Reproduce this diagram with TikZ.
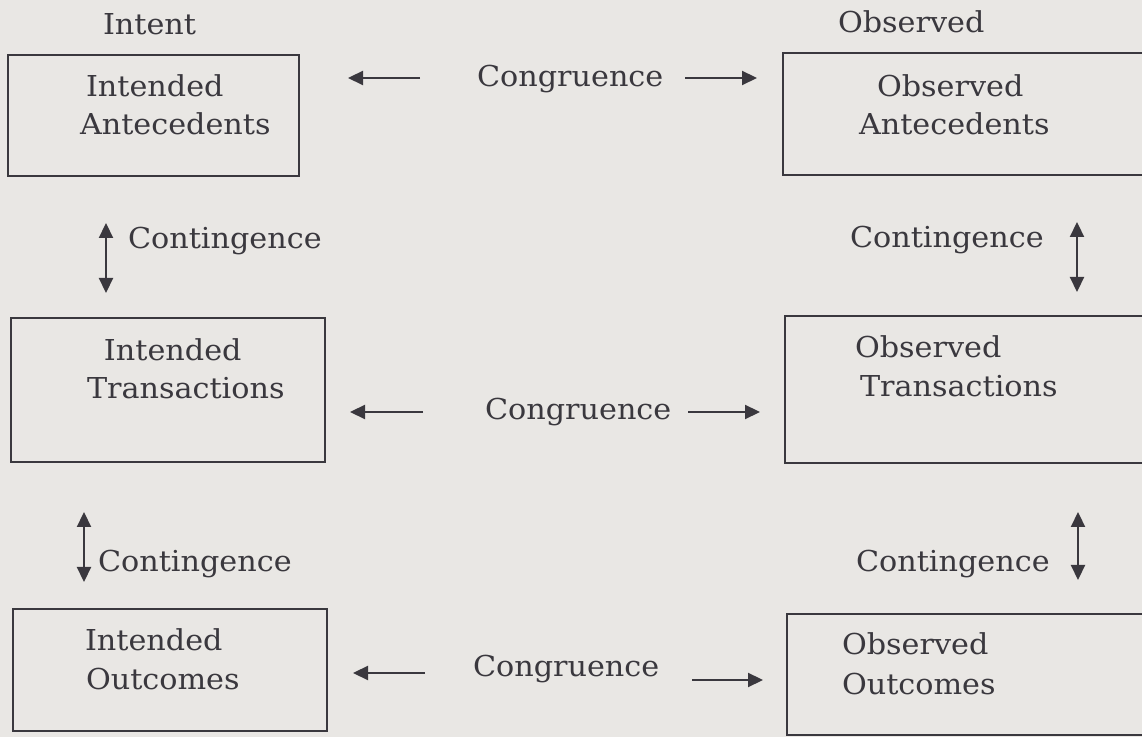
\documentclass[tikz,border=0pt]{standalone}
\usepackage{fontspec}
\setmainfont[FakeStretch=1.05]{DejaVu Serif}
\usetikzlibrary{arrows.meta}
\definecolor{bg}{HTML}{E9E7E4}
\definecolor{ink}{HTML}{3A383E}
\begin{document}
\begin{tikzpicture}[x=0.5pt,y=-0.5pt,
  box/.style={draw=ink,line width=1.1pt,rectangle,inner sep=0pt,outer sep=0pt},
  lbl/.style={anchor=base west,inner sep=0pt,outer sep=0pt,text=ink,font=\fontsize{14.4}{17}\selectfont},
  arr/.style={draw=ink,line width=1.1pt,-{Triangle[length=7.5pt,width=7pt]}},
  darr/.style={draw=ink,line width=1.1pt,{Triangle[length=7.5pt,width=7pt]}-{Triangle[length=7.5pt,width=7pt]}}]
\useasboundingbox (0,0) rectangle (1142,737);
\clip (0,0) rectangle (1142,737);
\fill[bg] (0,0) rectangle (1142,737);
% boxes
\node[box,minimum width=291*0.5pt,minimum height=121*0.5pt] (ia) at (153.5,115.5) {};
\node[box,minimum width=367*0.5pt,minimum height=122*0.5pt] (oa) at (966.5,114) {};
\node[box,minimum width=314*0.5pt,minimum height=144*0.5pt] (it) at (168,390) {};
\node[box,minimum width=365*0.5pt,minimum height=147*0.5pt] (ot) at (967.5,389.5) {};
\node[box,minimum width=314*0.5pt,minimum height=122*0.5pt] (io) at (170,670) {};
\node[box,minimum width=363*0.5pt,minimum height=121*0.5pt] (oo) at (968.5,674.5) {};
% headings
\node[lbl] (hint) at (103,35) {Intent};
\node[lbl] (hobs) at (838,33) {Observed};
% box texts
\node[lbl] (ia1) at (86,97) {Intended};
\node[lbl] (ia2) at (80,135) {Antecedents};
\node[lbl] (oa1) at (877,97) {Observed};
\node[lbl] (oa2) at (859,135) {Antecedents};
\node[lbl] (it1) at (104,361) {Intended};
\node[lbl] (it2) at (87,399) {Transactions};
\node[lbl] (ot1) at (855,358) {Observed};
\node[lbl] (ot2) at (860,397) {Transactions};
\node[lbl] (io1) at (85,651) {Intended};
\node[lbl] (io2) at (86,690) {Outcomes};
\node[lbl] (oo1) at (842,655) {Observed};
\node[lbl] (oo2) at (842,695) {Outcomes};
% congruence labels
\node[lbl] (cg1) at (477,87) {Congruence};
\node[lbl] (cg2) at (485,420) {Congruence};
\node[lbl] (cg3) at (473,677) {Congruence};
% contingence labels
\node[lbl] (ct1) at (128,249) {Contingence};
\node[lbl] (ct2) at (850,248) {Contingence};
\node[lbl] (ct3) at (98,572) {Contingence};
\node[lbl] (ct4) at (856,572) {Contingence};
% arrow end points
\coordinate (a1t) at (420,78);  \coordinate (a1h) at (348,78);
\coordinate (b1t) at (685,78);  \coordinate (b1h) at (757,78);
\coordinate (a2t) at (423,412); \coordinate (a2h) at (350,412);
\coordinate (b2t) at (688,412); \coordinate (b2h) at (760,412);
\coordinate (a3t) at (425,673); \coordinate (a3h) at (353,673);
\coordinate (b3t) at (692,680); \coordinate (b3h) at (763,680);
\coordinate (v1a) at (106,223); \coordinate (v1b) at (106,293);
\coordinate (v2a) at (1077,222); \coordinate (v2b) at (1077,292);
\coordinate (v3a) at (84,512); \coordinate (v3b) at (84,582);
\coordinate (v4a) at (1078,512); \coordinate (v4b) at (1078,580);
\draw[arr] (a1t) -- (a1h);
\draw[arr] (b1t) -- (b1h);
\draw[arr] (a2t) -- (a2h);
\draw[arr] (b2t) -- (b2h);
\draw[arr] (a3t) -- (a3h);
\draw[arr] (b3t) -- (b3h);
\draw[darr] (v1a) -- (v1b);
\draw[darr] (v2a) -- (v2b);
\draw[darr] (v3a) -- (v3b);
\draw[darr] (v4a) -- (v4b);
\end{tikzpicture}
\end{document}
